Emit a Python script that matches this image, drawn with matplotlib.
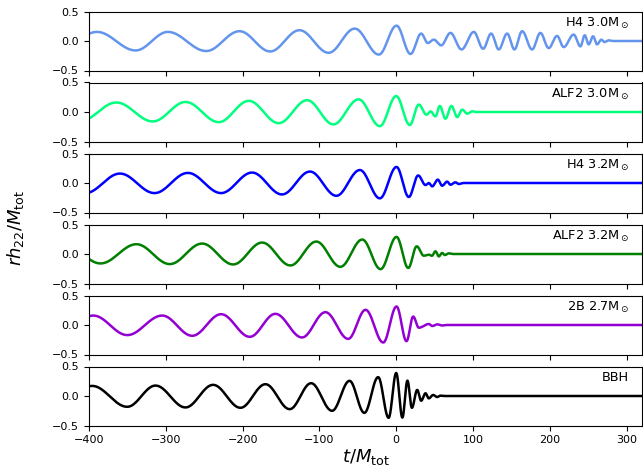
import numpy as np
import matplotlib
matplotlib.use("Agg")
import matplotlib.pyplot as plt

# ---- data: extrema (t, value); last point = where the signal settles to 0
labels = ["H4 3.0M$_\\odot$", "ALF2 3.0M$_\\odot$", "H4 3.2M$_\\odot$",
          "ALF2 3.2M$_\\odot$", "2B 2.7M$_\\odot$", "BBH"]
colors = ["#6495ED", "#00FF7F", "#0000FF", "#008000", "#9400D3", "#000000"]

t_h4_30 = [-389.6, -339.3, -297.3, -247.3, -204, -164.1, -126, -88, -54, -22.6, 0.4, 18.6,
           32.5, 41.1, 48.9, 58.5, 70.6, 85, 101, 113.2, 123.6, 133.5, 144.4, 153.9, 163.9,
           176.9, 187.7, 198.5, 209.4, 218, 231, 239.8, 245.4, 250.6, 256.3, 261.5, 267.1,
           271, 276.6, 282]
y_h4_30 = [0.154, -0.16, 0.154, -0.17, 0.166, -0.177, 0.183, -0.2, 0.21, -0.23, 0.26, -0.22,
           0.126, -0.034, 0.023, -0.074, 0.137, -0.143, 0.154, -0.131, 0.126, -0.143, 0.126,
           -0.143, 0.166, -0.143, 0.137, -0.12, 0.086, -0.103, 0.109, -0.091, 0.097, -0.057,
           0.08, -0.057, 0.023, -0.017, 0.011, 0.0]

t_alf2_30 = [-364.4, -316.8, -274.3, -231, -192, -153, -116, -81.8, -49, -21.3, 0, 17.7,
             29.4, 39.4, 44.6, 51.1, 56.7, 64.1, 71.9, 79.4, 85.9, 92.4, 98.9, 104]
y_alf2_30 = [0.161, -0.16, 0.17, -0.172, 0.189, -0.189, 0.2, -0.21, 0.215, -0.24, 0.27, -0.22,
             0.126, -0.046, 0.011, -0.074, 0.103, -0.114, 0.103, -0.086, 0.04, -0.029, 0.011, 0.0]

t_h4_32 = [-359.7, -314.7, -271.3, -228, -187.7, -148.7, -112.3, -77.9, -47.3, -21.3, 0.4,
           16.4, 28.6, 38.1, 42.4, 46.8, 54.1, 59.8, 66.3, 70.6, 77.1, 81.5, 88]
y_h4_32 = [0.16, -0.171, 0.171, -0.171, 0.177, -0.194, 0.194, -0.217, 0.22, -0.26, 0.272,
           -0.237, 0.128, -0.034, 0.0, -0.057, 0.057, -0.046, 0.023, -0.029, 0.011, -0.017, 0.0]

t_alf2_32 = [-385, -338.2, -294.8, -252.7, -212.3, -174.6, -137.8, -104, -72.7, -44.2, -20.4,
             0.4, 15.7, 26.7, 35.9, 42.4, 46.5, 51.1, 55.5, 59.8, 63.3, 68.4, 74]
y_alf2_32 = [-0.16, 0.166, -0.171, 0.177, -0.177, 0.194, -0.194, 0.211, -0.217, 0.245, -0.257,
             0.29, -0.237, 0.13, -0.029, -0.011, -0.03, 0.046, -0.04, 0.017, -0.017, 0.011, 0.0]

t_2b_27 = [-394.4, -350.2, -304.7, -265.6, -228, -190.7, -157.3, -122.6, -92.2, -62.5, -39.9,
           -16.9, 0.4, 13.4, 22.1, 29.4, 42.5, 46.8, 53.3, 59.8, 66]
y_2b_27 = [0.16, -0.171, 0.16, -0.183, 0.183, -0.2, 0.189, -0.211, 0.217, -0.235, 0.257,
           -0.297, 0.314, -0.274, 0.143, -0.046, 0.017, -0.017, 0.011, -0.008, 0.0]

t_bbh = [-395.8, -350.2, -313.4, -274.4, -238.4, -202.8, -170.3, -138.7, -110.8, -83.5, -60.8,
         -41.5, -23.5, -9.9, 0, 8, 14.6, 20.4, 27.3, 32.5, 38.1, 42.4, 48.1, 53.3, 57.6, 63]
y_bbh = [0.171, -0.183, 0.177, -0.194, 0.189, -0.2, 0.2, -0.223, 0.217, -0.251, 0.257,
         -0.286, 0.32, -0.37, 0.39, -0.366, 0.26, -0.2, 0.103, -0.08, 0.046, -0.04, 0.017,
         -0.017, 0.006, 0.0]

series_t = [t_h4_30, t_alf2_30, t_h4_32, t_alf2_32, t_2b_27, t_bbh]
series_y = [y_h4_30, y_alf2_30, y_h4_32, y_alf2_32, y_2b_27, y_bbh]

x_ticks = [-400, -300, -200, -100, 0, 100, 200, 300]
y_ticks = [-0.5, 0.0, 0.5]
x_min, x_max = -400, 320


def smooth_curve(te, ye, t_start, t_end, n=40):
    """Draw a smooth oscillation through extrema with half-cosine segments."""
    te = list(te)
    ye = list(ye)
    # continue the first half-cycle backwards so the curve starts with the right phase
    t_prev = te[0] - (te[1] - te[0])
    y_prev = ye[1]
    te.insert(0, t_prev)
    ye.insert(0, y_prev)
    te.append(t_end)
    ye.append(ye[-1])
    tt, yy = [], []
    for i in range(len(te) - 1):
        s = np.linspace(0, 1, n, endpoint=False)
        tt.append(te[i] + (te[i + 1] - te[i]) * s)
        yy.append(ye[i] + (ye[i + 1] - ye[i]) * (1 - np.cos(np.pi * s)) / 2)
    tt.append([te[-1]])
    yy.append([ye[-1]])
    tt = np.concatenate(tt)
    yy = np.concatenate(yy)
    return tt, yy


W, H = 643, 467
fig = plt.figure(figsize=(W / 100, H / 100), dpi=100)

left_px, right_px = 89, 642
top_px, panel_h, step = 11.5, 59, 71
axes = []
for i in range(6):
    top = top_px + i * step
    ax = fig.add_axes([left_px / W, 1 - (top + panel_h) / H,
                       (right_px - left_px) / W, panel_h / H])
    axes.append(ax)

for i, ax in enumerate(axes):
    t, y = smooth_curve(series_t[i], series_y[i], x_min, x_max)
    ax.plot(t, y, color=colors[i], lw=1.8)
    ax.set_xlim(x_min, x_max)
    ax.set_ylim(-0.5, 0.5)
    ax.set_yticks(y_ticks)
    ax.set_yticklabels(["\u22120.5", "0.0", "0.5"])
    ax.set_xticks(x_ticks)
    ax.tick_params(labelsize=8, length=3.5, width=0.8)
    if i < 5:
        ax.tick_params(labelbottom=False)
    ax.text(0.977, 0.93, labels[i], transform=ax.transAxes, ha="right", va="top",
            fontsize=9.3)

axes[-1].set_xticklabels(["\u2212400", "\u2212300", "\u2212200", "\u2212100", "0", "100",
                          "200", "300"])
fig.text((left_px + right_px) / 2 / W, 1 - 457 / H, r"$t/M_{\rm tot}$", ha="center",
         va="center", fontsize=13)
fig.text(15 / W, 1 - 228 / H, r"$rh_{22}/M_{\rm tot}$", ha="center", va="center",
         rotation=90, fontsize=13)

fig.savefig("out.png", dpi=100)
